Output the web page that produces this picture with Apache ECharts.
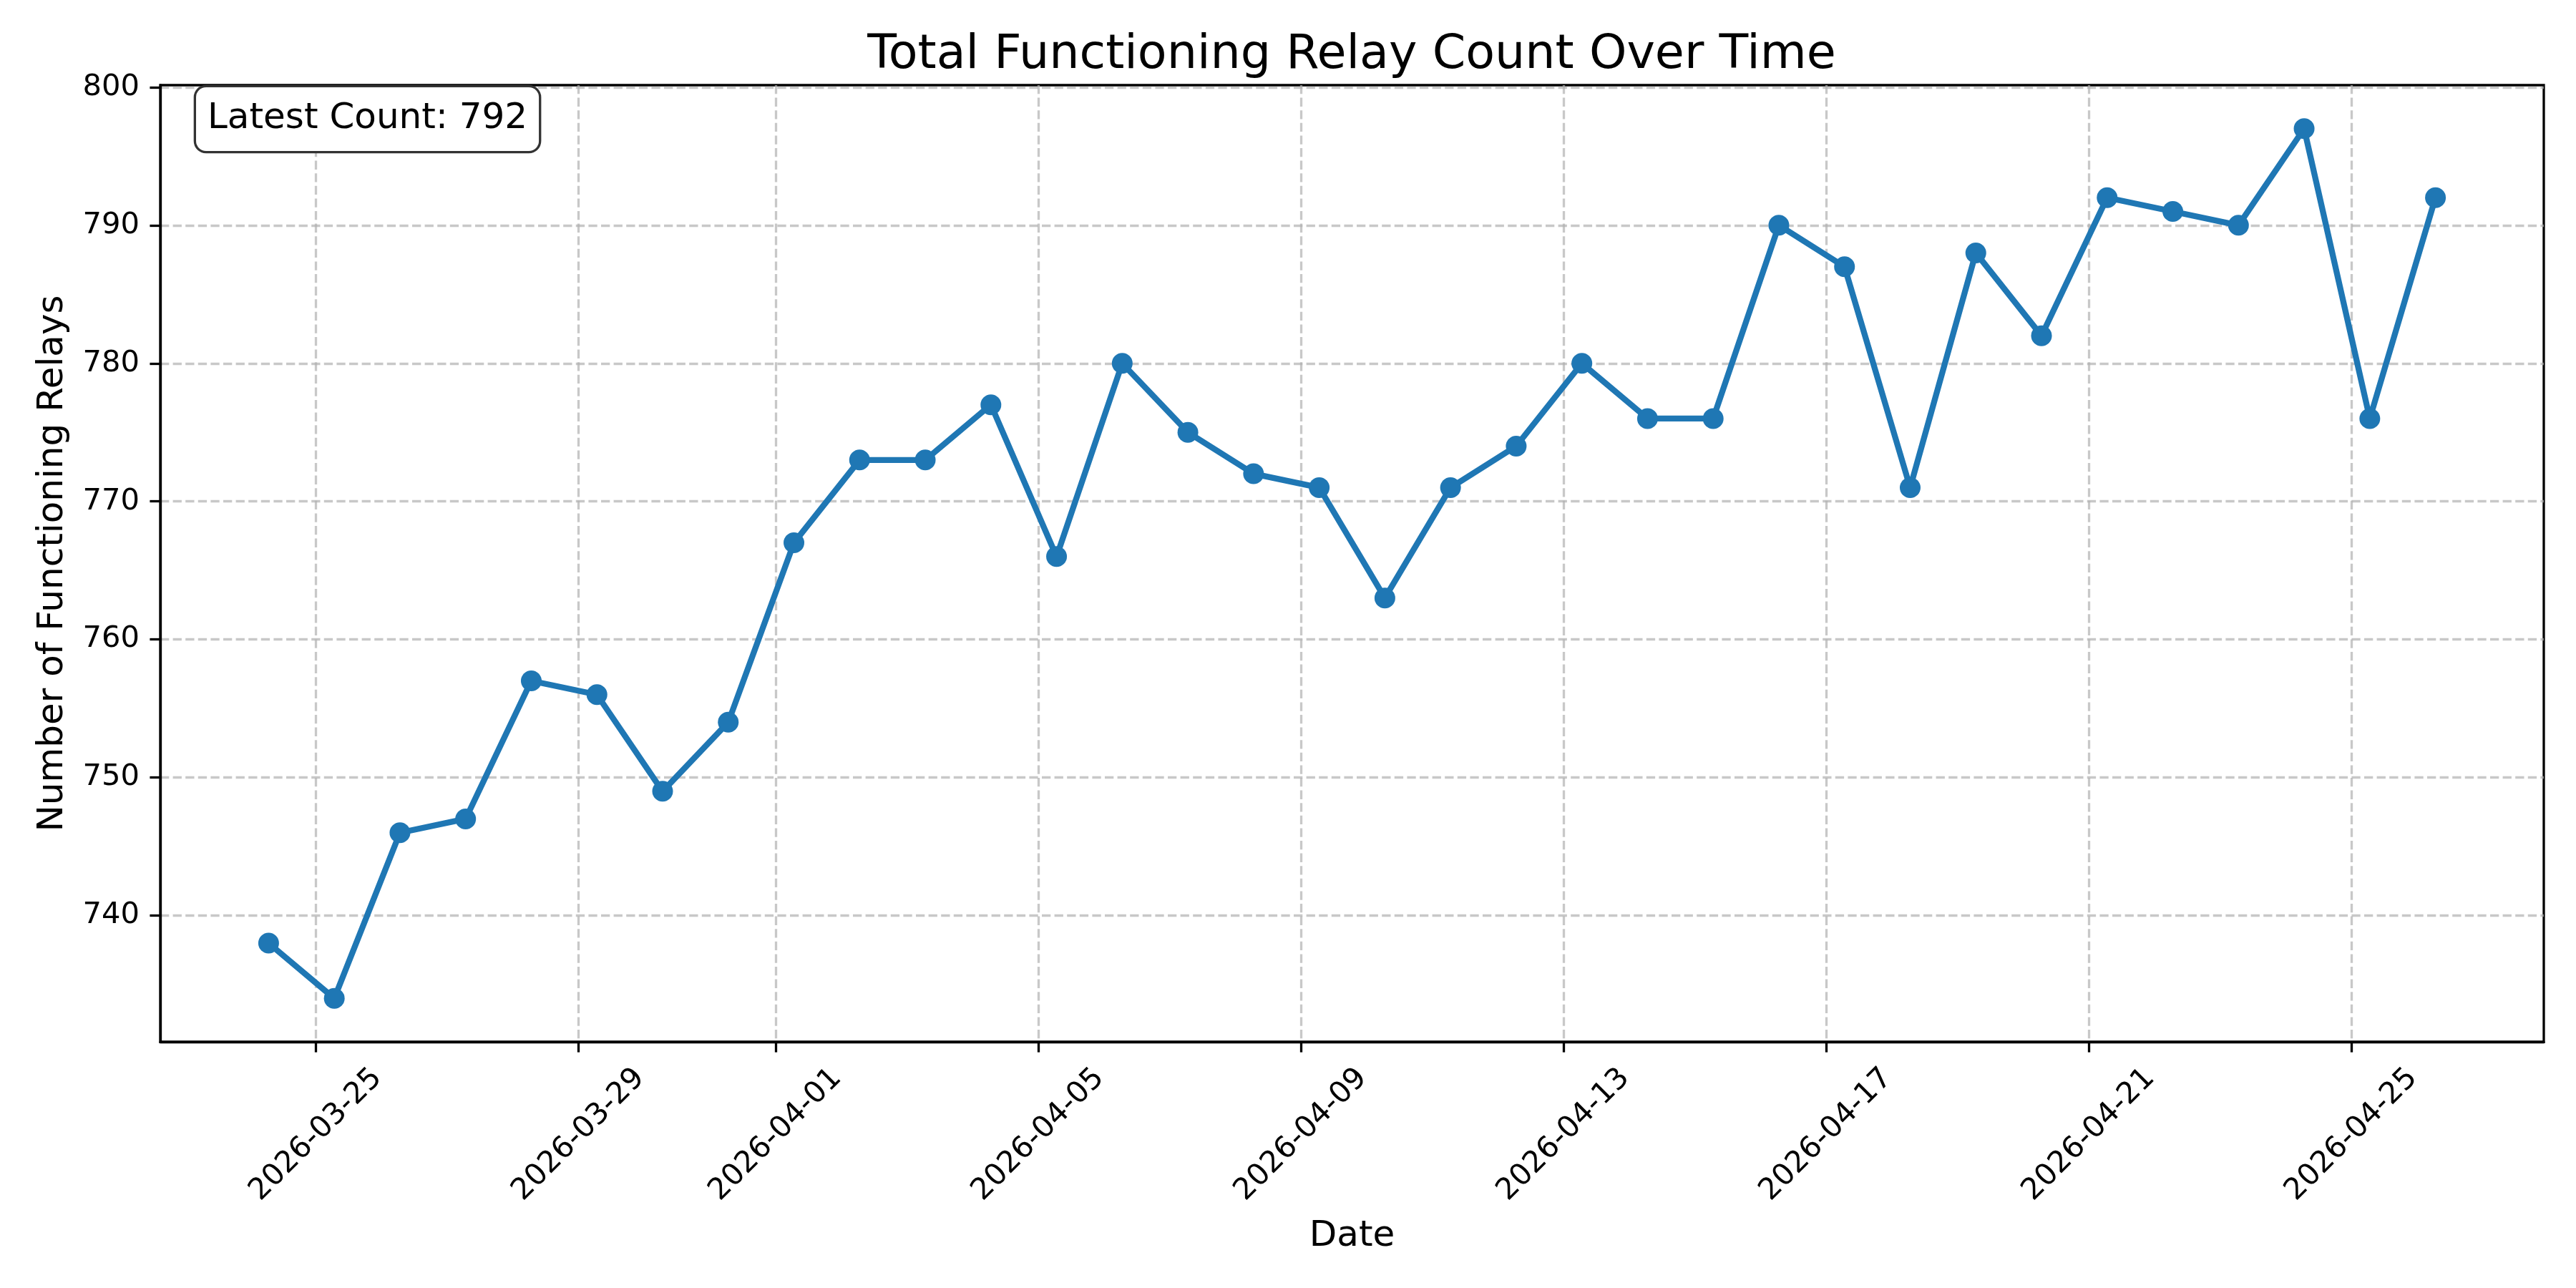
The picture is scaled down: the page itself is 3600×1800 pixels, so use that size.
<!DOCTYPE html>
<html>
<head>
<meta charset="utf-8">
<title>Total Functioning Relay Count Over Time</title>
<script src="https://cdn.jsdelivr.net/npm/echarts@6/dist/echarts.min.js"></script>
<style>
    html, body { margin: 0; padding: 0; background: #fff; }
    #chart { width: 3600px; height: 1800px; }
</style>
</head>
<body>
<div id="chart"></div>
<script>
// one reading per day, taken at roughly the same time of day
const dates = [
    '2026-03-24', '2026-03-25', '2026-03-26', '2026-03-27', '2026-03-28', '2026-03-29',
    '2026-03-30', '2026-03-31', '2026-04-01', '2026-04-02', '2026-04-03', '2026-04-04',
    '2026-04-05', '2026-04-06', '2026-04-07', '2026-04-08', '2026-04-09', '2026-04-10',
    '2026-04-11', '2026-04-12', '2026-04-13', '2026-04-14', '2026-04-15', '2026-04-16',
    '2026-04-17', '2026-04-18', '2026-04-19', '2026-04-20', '2026-04-21', '2026-04-22',
    '2026-04-23', '2026-04-24', '2026-04-25', '2026-04-26'
];
const sampleTime = 'T06:40:00';
const relayCounts = [
    738, 734, 746, 747, 757, 756, 749, 754, 767, 773, 773, 777,
    766, 780, 775, 772, 771, 763, 771, 774, 780, 776, 776, 790,
    787, 771, 788, 782, 792, 791, 790, 797, 776, 792
];
const xTickLabels = [
    '2026-03-25', '2026-03-29', '2026-04-01', '2026-04-05', '2026-04-09',
    '2026-04-13', '2026-04-17', '2026-04-21', '2026-04-25'
];
const yTickLabels = [740, 750, 760, 770, 780, 790, 800];

const BLUE = '#1f77b4';
const FONT = 'DejaVu Sans';

// time axis does not take custom ticks, so x is a plain value axis in ms
const times = dates.map((d) => Date.parse(d + sampleTime));
const xTickTimes = xTickLabels.map((d) => Date.parse(d + 'T00:00:00'));

// matplotlib-style 5% margins around the data
const xPad = (times[times.length - 1] - times[0]) * 0.05;
const yLo = Math.min(...relayCounts);
const yHi = Math.max(...relayCounts);
const yPad = (yHi - yLo) * 0.05;

const gridLine = {
    show: true,
    lineStyle: { color: '#b0b0b0', opacity: 0.7, width: 3.3, type: [12.3, 5.3] }
};

const chart = echarts.init(document.getElementById('chart'), null, { renderer: 'canvas' });

chart.setOption({
    animation: false,
    backgroundColor: '#fff',
    textStyle: { fontFamily: FONT },
    grid: {
        left: 224,
        right: 45,
        top: 119,
        bottom: 344,
        show: true,
        borderColor: '#000',
        borderWidth: 3.3,
        backgroundColor: 'transparent',
        outerBoundsMode: 'none'
    },
    graphic: [
        {
            type: 'text',
            x: 1889,
            y: 78,
            style: {
                text: 'Total Functioning Relay Count Over Time',
                font: '66.7px "DejaVu Sans"',
                fill: '#000',
                align: 'center',
                verticalAlign: 'middle'
            }
        },
        {
            type: 'text',
            x: 274,
            y: 122,
            z: 100,
            style: {
                text: 'Latest Count: ' + relayCounts[relayCounts.length - 1],
                font: '50px "DejaVu Sans"',
                fill: '#000',
                align: 'left',
                verticalAlign: 'top',
                lineHeight: 60,
                backgroundColor: '#fff',
                borderColor: '#333',
                borderWidth: 3.3,
                borderRadius: 14,
                padding: [14, 16, 15, 16]
            }
        }
    ],
    xAxis: {
        type: 'value',
        min: times[0] - xPad,
        max: times[times.length - 1] + xPad,
        name: 'Date',
        nameLocation: 'middle',
        nameGap: 243,
        nameTextStyle: { fontSize: 50, color: '#000', lineHeight: 58, fontFamily: FONT },
        axisLine: { show: true, onZero: false, lineStyle: { color: '#000', width: 3.3 } },
        axisTick: {
            show: true,
            length: 14.6,
            customValues: xTickTimes,
            lineStyle: { color: '#000', width: 3.3 }
        },
        axisLabel: {
            customValues: xTickTimes,
            rotate: 45,
            align: 'center',
            verticalAlign: 'middle',
            margin: 130,
            fontSize: 41.67,
            color: '#000',
            fontFamily: FONT,
            hideOverlap: false,
            formatter: (value) => {
                const i = xTickTimes.indexOf(value);
                return i >= 0 ? xTickLabels[i] : '';
            }
        },
        splitLine: gridLine
    },
    yAxis: {
        type: 'value',
        min: yLo - yPad,
        max: yHi + yPad,
        name: 'Number of Functioning Relays',
        nameLocation: 'middle',
        nameRotate: 90,
        nameGap: 121,
        nameTextStyle: { fontSize: 50, color: '#000', lineHeight: 58, fontFamily: FONT },
        axisLine: { show: true, onZero: false, lineStyle: { color: '#000', width: 3.3 } },
        axisTick: {
            show: true,
            length: 14.6,
            customValues: yTickLabels,
            lineStyle: { color: '#000', width: 3.3 }
        },
        axisLabel: {
            customValues: yTickLabels,
            margin: 29,
            fontSize: 41.67,
            color: '#000',
            fontFamily: FONT
        },
        splitLine: gridLine
    },
    series: [
        {
            type: 'line',
            data: times.map((t, i) => [t, relayCounts[i]]),
            symbol: 'circle',
            symbolSize: 29,
            showSymbol: true,
            lineStyle: { color: BLUE, width: 8.3, join: 'round', cap: 'round' },
            itemStyle: { color: BLUE },
            emphasis: { disabled: true },
            silent: true
        }
    ]
});
</script>
</body>
</html>
